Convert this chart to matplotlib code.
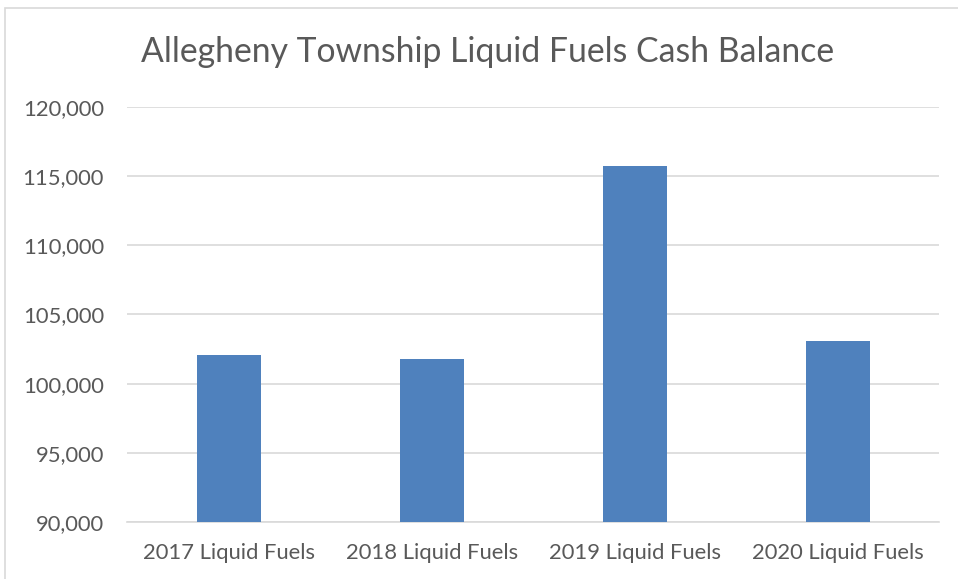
import matplotlib.pyplot as plt
from matplotlib.patches import Rectangle
from matplotlib.ticker import FuncFormatter

categories = ['2017 Liquid Fuels', '2018 Liquid Fuels', '2019 Liquid Fuels', '2020 Liquid Fuels']
balances = [102050, 101760, 115760, 103080]
yticks = [90000, 95000, 100000, 105000, 110000, 115000, 120000]

plt.rcParams['font.family'] = ['Lato', 'DejaVu Sans']
txt = '#595959'

fig = plt.figure(figsize=(9.58, 5.79), dpi=100)
# outer chart border
fig.patches.append(Rectangle((5/958, -0.01), 1.0, 1 - 8/579 + 0.01, transform=fig.transFigure,
                             fill=False, edgecolor='#d9d9d9', linewidth=1.2))
ax = fig.add_axes([127.5/958, 1 - 522/579, 812/958, 415/579])

x = range(len(categories))
ax.bar(x, balances, width=0.315, color='#4f81bd', zorder=3)
ax.set_xlim(-0.5, len(categories) - 0.5)
ax.set_ylim(90000, 120000)
ax.set_yticks(yticks)
ax.yaxis.set_major_formatter(FuncFormatter(lambda v, p: f'{int(v):,}'))
ax.set_xticks(list(x))
ax.set_xticklabels(categories)
ax.grid(axis='y', color='#d9d9d9', linewidth=1.2, zorder=0)
for s in ['top', 'right', 'left']:
    ax.spines[s].set_visible(False)
ax.spines['bottom'].set_color('#d9d9d9')
ax.spines['bottom'].set_linewidth(1.2)
ax.tick_params(axis='both', length=0, labelsize=15.8, colors=txt)
ax.tick_params(axis='y', pad=17)
ax.tick_params(axis='x', pad=15)

fig.text(488/958, 1 - 52/579, 'Allegheny Township Liquid Fuels Cash Balance',
         ha='center', va='center', fontsize=24.3, color=txt)

fig.savefig('out.png', dpi=100)
